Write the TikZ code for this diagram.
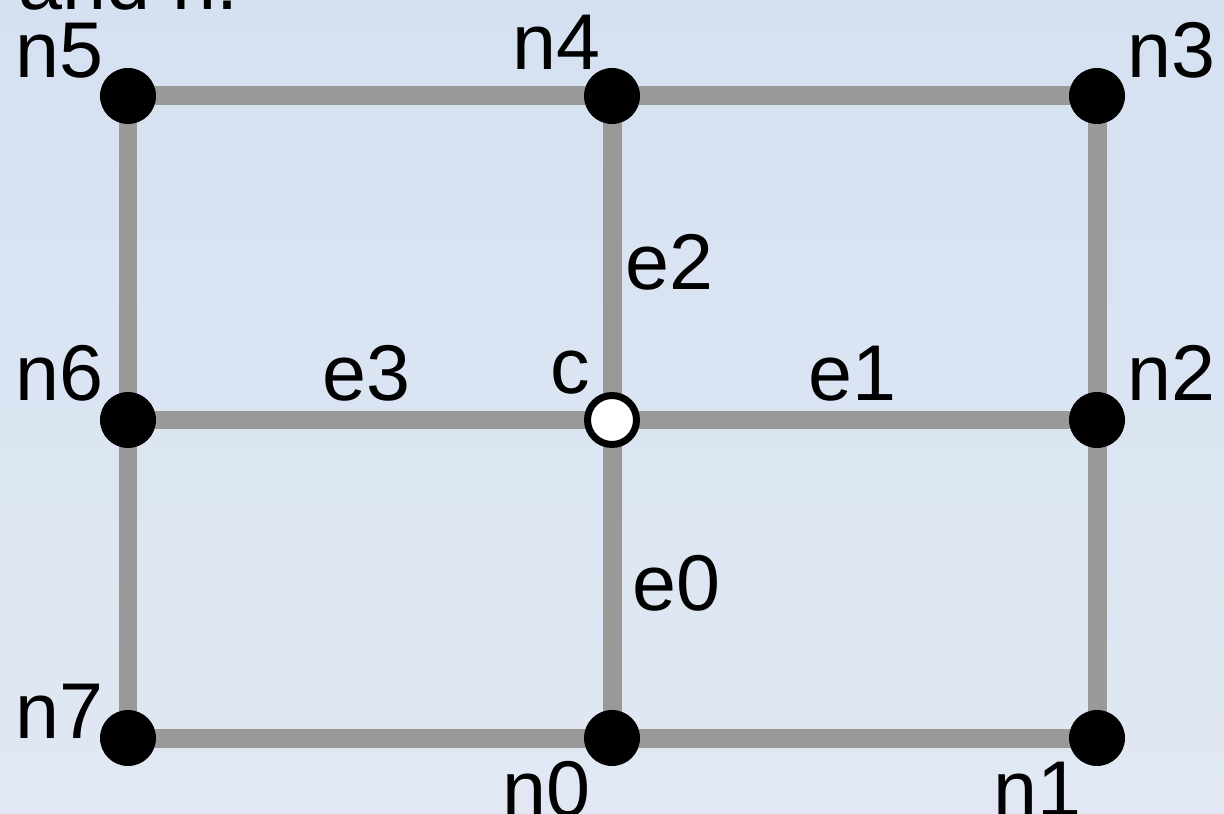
\documentclass[tikz,border=0pt]{standalone}
\usepackage{fontspec}
\setmainfont{Liberation Sans}
\usetikzlibrary{backgrounds}

\definecolor{bgtop}{RGB}{213,225,241}
\definecolor{bgbot}{RGB}{225,232,243}
\definecolor{edgegray}{RGB}{153,153,153}

\begin{document}
\begin{tikzpicture}[
    x=0.02cm, y=-0.02cm,
    vertex/.style={circle, fill=black, minimum size=1.12cm, inner sep=0pt},
    centre/.style={circle, draw=black, fill=white, line width=0.14cm, minimum size=0.98cm, inner sep=0pt},
    edge/.style={draw=edgegray, line width=0.38cm},
    lbl/.style={anchor=base west, inner sep=0pt, font=\fontsize{45}{54}\selectfont}
  ]
  \useasboundingbox (0,0) rectangle (1224,814);
  \clip (0,0) rectangle (1224,814);
  % grid points
  \node[vertex] (n5) at (128,96) {};
  \node[vertex] (n4) at (612,96) {};
  \node[vertex] (n3) at (1097,96) {};
  \node[vertex] (n6) at (128,420) {};
  \node[centre] (c) at (612,420) {};
  \node[vertex] (n2) at (1097,420) {};
  \node[vertex] (n7) at (128,738) {};
  \node[vertex] (n0) at (612,738) {};
  \node[vertex] (n1) at (1097,738) {};
  % edges behind the points
  \begin{scope}[on background layer]
    \shade[top color=bgtop, bottom color=bgbot] (0,0) rectangle (1224,814);
    \draw[edge] (n5.center) -- (n4.center) -- (n3.center) -- (n2.center) -- (n1.center)
      -- (n0.center) -- (n7.center) -- (n6.center) -- cycle;
    \draw[edge] (n4.center) -- (c.center);
    \draw[edge] (c.center) -- (n2.center);
    \draw[edge] (c.center) -- (n0.center);
    \draw[edge] (n6.center) -- (c.center);
  \end{scope}
  % labels
  \node[lbl] (title) at (18,10) {and n.};
  \node[lbl] (l5) at (15,78) {n5};
  \node[lbl] (l4) at (512,70) {n4};
  \node[lbl] (l3) at (1127,78) {n3};
  \node[lbl] (l6) at (15,400) {n6};
  \node[lbl] (le3) at (322,400) {e3};
  \node[lbl] (lc) at (550,393) {c};
  \node[lbl] (le1) at (808,400) {e1};
  \node[lbl] (l2) at (1127,400) {n2};
  \node[lbl] (le2) at (625,290) {e2};
  \node[lbl] (le0) at (632,610) {e0};
  \node[lbl] (l7) at (15,738) {n7};
  \node[lbl] (l0) at (502,816) {n0};
  \node[lbl] (l1) at (993,816) {n1};
\end{tikzpicture}
\end{document}
